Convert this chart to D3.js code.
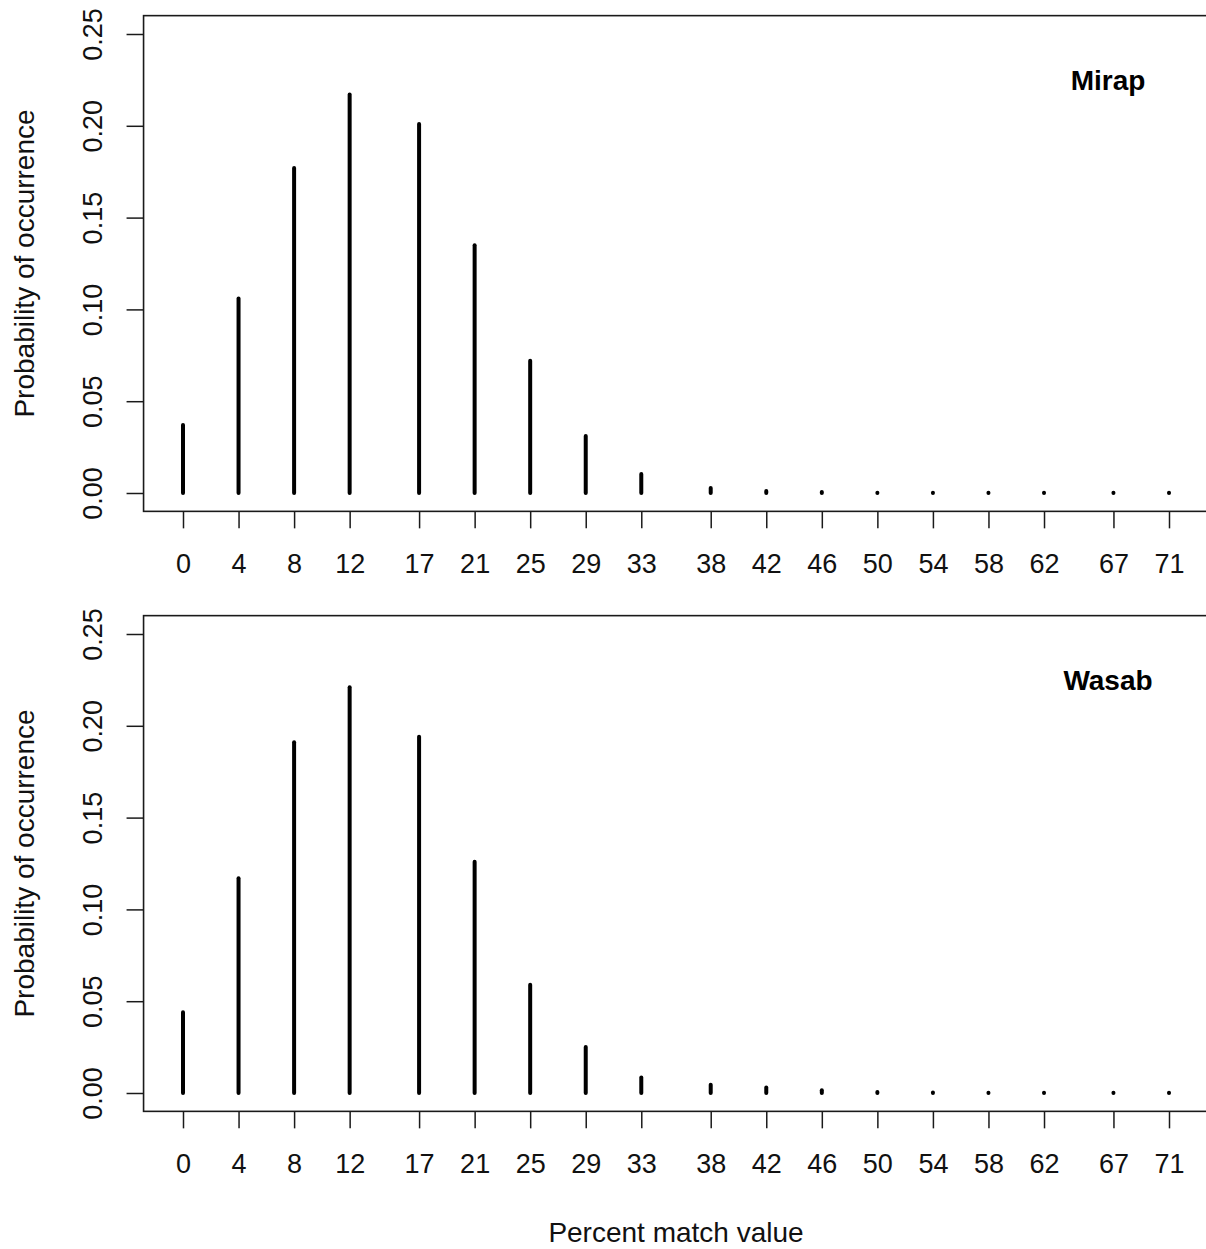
<!DOCTYPE html>
<html>
<head>
<meta charset="utf-8">
<script src="https://cdn.jsdelivr.net/npm/d3@7"></script>
<style>
  body { margin: 0; background: #fff; }
  svg { display: block; font-family: "Liberation Sans", Arial, sans-serif; }
  .frame { fill: none; stroke: #1a1a1a; stroke-width: 1.6; }
  .axis path.domain { display: none; }
  .axis line { stroke: #1a1a1a; stroke-width: 1.5; }
  .axis text { fill: #111; font-size: 27px; }
  .spike { stroke: #000; stroke-width: 4; stroke-linecap: round; }
  .title { font-size: 28px; fill: #111; }
  .label { font-size: 28px; font-weight: bold; fill: #000; }
</style>
</head>
<body>
<svg id="chart" width="1206" height="1249"></svg>
<script>
// percent match values (x positions and tick labels)
const matchValues = [0, 4, 8, 12, 17, 21, 25, 29, 33, 38, 42, 46, 50, 54, 58, 62, 67, 71];
// probability of occurrence
const mirapProb = [0.037, 0.106, 0.177, 0.217, 0.201, 0.135, 0.072, 0.031, 0.0103, 0.0027,
                   0.0011, 0.0005, 0.0002, 0.0001, 0.0001, 0.0001, 0.0001, 0.0001];
const wasabProb = [0.044, 0.117, 0.191, 0.221, 0.194, 0.126, 0.059, 0.025, 0.0085, 0.0045,
                   0.003, 0.0015, 0.0005, 0.0003, 0.0002, 0.0001, 0.0001, 0.0001];
const yTicks = [0, 0.05, 0.10, 0.15, 0.20, 0.25];
const panelNames = ["Mirap", "Wasab"];

const svg = d3.select("#chart");

// x scale shared by both panels
const x = d3.scaleLinear().domain([0, 71]).range([183, 1169]);
const boxLeft = x(-2.84), boxRight = x(73.84);

function drawPanel(top, name, probs) {
    // R style: ylim 0..0.25 with 4% padding
    const y = d3.scaleLinear().domain([0, 0.25]).range([top + 478, top + 19]);
    const boxTop = y(0.26), boxBottom = y(-0.01);
    const g = svg.append("g");

    g.append("rect").attr("class", "frame")
        .attr("x", boxLeft).attr("y", boxTop)
        .attr("width", boxRight - boxLeft).attr("height", boxBottom - boxTop);

    // y axis, labels rotated like par(las=0)
    const ya = g.append("g").attr("class", "axis")
        .attr("transform", "translate(" + boxLeft + ",0)")
        .call(d3.axisLeft(y).tickValues(yTicks).tickSize(17).tickFormat(d3.format(".2f")));
    ya.selectAll("text")
        .attr("x", null).attr("dy", null)
        .attr("text-anchor", "middle")
        .attr("transform", "translate(-51,0) rotate(-90)")
        .attr("dy", "0.35em");

    // x axis, ticks below the box
    g.append("g").attr("class", "axis")
        .attr("transform", "translate(0," + boxBottom + ")")
        .call(d3.axisBottom(x).tickValues(matchValues).tickSize(17).tickPadding(25).tickFormat(d3.format("d")));

    // spikes (type = "h")
    g.selectAll(".spike").data(matchValues.map((v, i) => ({x: v, y: probs[i]})))
        .enter().append("line").attr("class", "spike")
        .attr("x1", d => x(d.x)).attr("x2", d => x(d.x))
        .attr("y1", y(0)).attr("y2", d => y(d.y));

    g.append("text").attr("class", "label")
        .attr("x", 1108).attr("y", top + 75)
        .attr("text-anchor", "middle")
        .text(name);

    g.append("text").attr("class", "title")
        .attr("text-anchor", "middle")
        .attr("transform", "translate(34," + ((boxTop + boxBottom) / 2) + ") rotate(-90)")
        .text("Probability of occurrence");
}

drawPanel(15, panelNames[0], mirapProb);
drawPanel(615, panelNames[1], wasabProb);

svg.append("text").attr("class", "title")
    .attr("x", 676).attr("y", 1242)
    .attr("text-anchor", "middle")
    .text("Percent match value");
</script>
</body>
</html>
